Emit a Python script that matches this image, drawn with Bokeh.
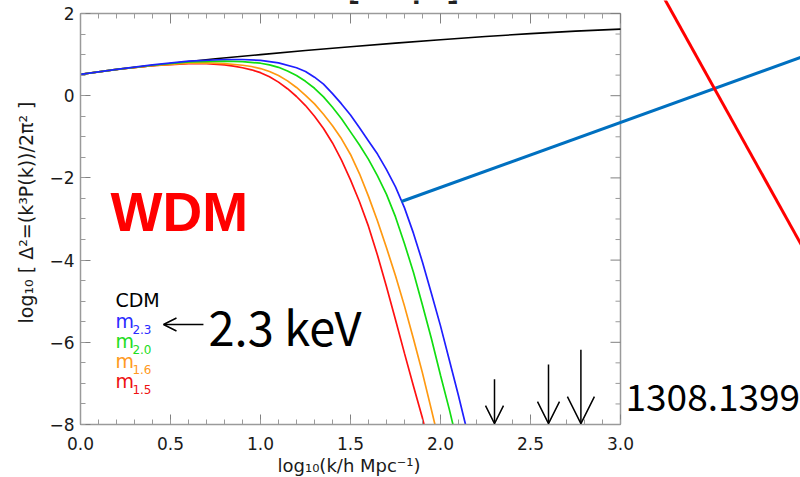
import numpy as np
from bokeh.plotting import figure
from bokeh.models import (Label, Arrow, OpenHead, LinearAxis, Range1d, SingleIntervalTicker)
from bokeh.embed import file_html
from bokeh.resources import INLINE

# ---------------- data ----------------
cdm_x = [0.0, 0.25, 0.5, 0.75, 1.0, 1.25, 1.5, 1.75, 2.0, 2.25, 2.5, 2.75, 3.0]
cdm_y = [0.52, 0.66, 0.78, 0.90, 1.00, 1.10, 1.19, 1.28, 1.36, 1.44, 1.51, 1.57, 1.62]

m23_x = [0.0, 0.2, 0.4, 0.6, 0.8, 0.9, 1.0, 1.1, 1.2, 1.25, 1.3, 1.35, 1.4, 1.45, 1.5,
         1.55, 1.6, 1.65, 1.7, 1.75, 1.8, 1.85, 1.9, 1.95, 2.0, 2.05, 2.1, 2.15]
m23_y = [0.52, 0.64, 0.75, 0.84, 0.88, 0.88, 0.86, 0.80, 0.68, 0.59, 0.45, 0.28, 0.05, -0.20, -0.47,
         -0.78, -1.10, -1.42, -1.80, -2.22, -2.73, -3.35, -4.05, -4.82, -5.60, -6.45, -7.30, -8.20]

m20_x = [0.0, 0.2, 0.4, 0.6, 0.8, 0.9, 1.0, 1.05, 1.1, 1.15, 1.2, 1.25, 1.3, 1.35, 1.4, 1.45,
         1.5, 1.55, 1.6, 1.65, 1.7, 1.75, 1.8, 1.85, 1.9, 1.95, 2.0, 2.05, 2.08]
m20_y = [0.52, 0.64, 0.74, 0.82, 0.84, 0.83, 0.79, 0.75, 0.69, 0.60, 0.49, 0.35, 0.18, -0.03, -0.28, -0.56,
         -0.88, -1.20, -1.55, -1.95, -2.40, -2.95, -3.60, -4.30, -5.10, -5.92, -6.80, -7.65, -8.20]

m16_x = [0.0, 0.2, 0.4, 0.6, 0.7, 0.8, 0.9, 0.95, 1.0, 1.05, 1.1, 1.15, 1.2, 1.25, 1.3, 1.35,
         1.4, 1.45, 1.5, 1.55, 1.6, 1.65, 1.7, 1.75, 1.8, 1.85, 1.9, 1.95, 1.98]
m16_y = [0.52, 0.64, 0.73, 0.79, 0.80, 0.78, 0.74, 0.71, 0.66, 0.59, 0.49, 0.36, 0.20, 0.01, -0.20, -0.45,
         -0.73, -1.05, -1.43, -1.90, -2.45, -3.05, -3.70, -4.38, -5.12, -5.92, -6.75, -7.65, -8.20]

m15_x = [0.0, 0.2, 0.4, 0.6, 0.7, 0.8, 0.85, 0.9, 0.95, 1.0, 1.05, 1.1, 1.15, 1.2, 1.25, 1.3,
         1.35, 1.4, 1.45, 1.5, 1.55, 1.6, 1.65, 1.7, 1.75, 1.8, 1.85, 1.9, 1.92]
m15_y = [0.52, 0.64, 0.73, 0.78, 0.78, 0.75, 0.72, 0.68, 0.63, 0.56, 0.46, 0.33, 0.17, -0.02, -0.24, -0.50,
         -0.80, -1.15, -1.57, -2.05, -2.58, -3.18, -3.88, -4.65, -5.45, -6.27, -7.07, -7.85, -8.20]

legend_names = ["m", "m", "m", "m"]
legend_subs = ["2.3", "2.0", "1.6", "1.5"]

arrow_k = [2.3, 2.6, 2.78]          # log10 k of the marked scales
arrow_top = [-6.9, -6.54, -6.18]

y_major = [-8, -6, -4, -2, 0, 2]
y_labels = ["\u22128", "\u22126", "\u22124", "\u22122", "0", "2"]
x_major = [0.0, 0.5, 1.0, 1.5, 2.0, 2.5, 3.0]
x_labels = ["0.0", "0.5", "1.0", "1.5", "2.0", "2.5", "3.0"]

colors = ["#1f1fff", "#11dd11", "#ff9911", "#ff1111"]
txt_colors = ["#2b2bff", "#22dd22", "#ff9922", "#ee1111"]

# ---------------- figure ----------------
# the frame runs to the right and top canvas edges so the callouts outside the
# axes box can be drawn; the axes box itself spans x 0..3, y -8..2
XMIN, XMAX, YMIN, YMAX = 0.0, 3.0, -8.0, 2.0
FONT = "DejaVu Sans"
AX = "#9a9a9a"
TK = "#808080"

p = figure(width=800, height=477, output_backend="svg", toolbar_location=None,
           x_range=Range1d(XMIN, 4.0), y_range=Range1d(YMIN, 2.316),
           min_border_left=80, min_border_right=0, min_border_top=0, min_border_bottom=53,
           x_axis_location=None, y_axis_location=None, title_location="below")
p.outline_line_color = None
p.xgrid.visible = False
p.ygrid.visible = False
p.background_fill_color = "white"
p.border_fill_color = "white"

# x-axis caption, centred under the axes box (not under the wider frame)
p.title.text = "log\u2081\u2080(k/h Mpc\u207b\u00b9)"
p.title.align = "left"
p.title.offset = 197
p.title.standoff = 0
p.title.text_font = FONT
p.title.text_font_size = "18px"
p.title.text_font_style = "normal"
p.title.text_color = "#1a1a1a"


def style(ax):
    ax.axis_line_color = AX
    ax.axis_line_width = 1.5
    ax.major_tick_line_color = TK
    ax.minor_tick_line_color = AX
    ax.major_tick_in = 10
    ax.major_tick_out = 0
    ax.minor_tick_in = 5
    ax.minor_tick_out = 0
    ax.major_label_text_font = FONT
    ax.major_label_text_color = "#1a1a1a"
    ax.axis_label_text_font = FONT
    ax.axis_label_text_font_style = "normal"
    ax.axis_label_text_color = "#1a1a1a"


xb = LinearAxis(ticker=SingleIntervalTicker(interval=0.5, num_minor_ticks=5), bounds=(XMIN, XMAX))
style(xb)
xb.major_label_text_font_size = "17px"
xb.major_label_standoff = 12
xb.major_label_overrides = {v: s for v, s in zip(x_major, x_labels)}
p.add_layout(xb, "below")

yl = LinearAxis(ticker=SingleIntervalTicker(interval=2, num_minor_ticks=4),
                axis_label="log\u2081\u2080 [ \u0394\u00b2=(k\u00b3P(k))/2\u03c0\u00b2 ]",
                bounds=(YMIN, YMAX))
style(yl)
yl.major_label_text_font_size = "17px"
yl.axis_label_text_font_size = "19px"
yl.major_label_standoff = 6
yl.axis_label_standoff = 9
yl.major_label_overrides = {float(v): s for v, s in zip(y_major, y_labels)}
p.add_layout(yl, "left")

# top and right sides of the axes box with inward ticks
p.segment(x0=[XMIN, XMAX], y0=[YMAX, YMIN], x1=[XMAX, XMAX], y1=[YMAX, YMAX],
          line_color=AX, line_width=1.5)
top_major = np.arange(XMIN, XMAX + 1e-9, 0.5)
top_minor = np.array([v for v in np.arange(XMIN, XMAX + 1e-9, 0.1)
                      if abs(v / 0.5 - round(v / 0.5)) > 1e-6])
right_major = np.arange(YMIN, YMAX + 1e-9, 2.0)
right_minor = np.array([v for v in np.arange(YMIN, YMAX + 1e-9, 0.5)
                        if abs(v / 2.0 - round(v / 2.0)) > 1e-6])
p.ray(x=top_major, y=YMAX, length=10, length_units="screen", angle=-np.pi / 2,
      line_color=TK, line_width=1)
p.ray(x=top_minor, y=YMAX, length=5, length_units="screen", angle=-np.pi / 2,
      line_color=AX, line_width=1)
p.ray(x=XMAX, y=right_major, length=10, length_units="screen", angle=np.pi,
      line_color=TK, line_width=1)
p.ray(x=XMAX, y=right_minor, length=5, length_units="screen", angle=np.pi,
      line_color=AX, line_width=1)

# ---------------- curves ----------------
p.line(cdm_x, cdm_y, line_color="black", line_width=1.6)
for xs, ys, c in [(m23_x, m23_y, colors[0]), (m20_x, m20_y, colors[1]),
                  (m16_x, m16_y, colors[2]), (m15_x, m15_y, colors[3])][::-1]:
    p.line(xs, ys, line_color=c, line_width=1.7)

# ---------------- legend text ----------------
p.add_layout(Label(x=0.194, y=-4.96, text="CDM", text_font=FONT, text_font_size="19px",
                   text_color="black", text_baseline="middle"))
for i, (nm, sb, c) in enumerate(zip(legend_names, legend_subs, txt_colors)):
    yy = -5.47 - 0.494 * i
    p.add_layout(Label(x=0.194, y=yy, text=nm, text_font=FONT, text_font_size="19px",
                       text_color=c, text_baseline="middle"))
    p.add_layout(Label(x=0.194, y=yy, x_offset=17, y_offset=-8.5, text=sb, text_font=FONT,
                       text_font_size="12px", text_color=c, text_baseline="middle"))

# ---------------- annotations ----------------
p.add_layout(Label(x=0.167, y=-2.82, text="WDM", text_font="Liberation Sans",
                   text_font_size="55px", text_font_style="bold", text_color="#ff0000",
                   text_baseline="middle"))
p.add_layout(Label(x=0.711, y=-5.59, text="2.3 keV", text_font="Noto Sans CJK JP",
                   text_font_size="47px", text_color="black", text_baseline="middle"))
p.add_layout(Label(x=3.028, y=-7.355, text="1308.1399", text_font="Noto Sans CJK JP",
                   text_font_size="37px", text_color="black", text_baseline="middle"))
p.add_layout(Label(x=1.344, y=2.645, text="k [h/Mpc]", text_font="Liberation Sans",
                   text_font_size="31px", text_font_style="bold", text_color="#222222",
                   text_baseline="middle"))

p.add_layout(Arrow(x_start=0.683, y_start=-5.567, x_end=0.461, y_end=-5.567,
                   line_width=1.5, line_color="black",
                   end=OpenHead(size=13, line_width=1.5, line_color="black")))

for k, top, s in zip(arrow_k, arrow_top, [18, 22, 27]):
    p.add_layout(Arrow(x_start=k, y_start=top, x_end=k, y_end=-7.98,
                       line_width=1.5, line_color="black",
                       end=OpenHead(size=s, line_width=1.5, line_color="black")))

# callout lines running outside the axes box
p.add_layout(Arrow(x_start=1.783, y_start=-2.574, x_end=4.056, y_end=1.017,
                   line_width=3, line_color="#0070c0", end=None))
p.add_layout(Arrow(x_start=3.188, y_start=2.803, x_end=4.056, y_end=-4.034,
                   line_width=3, line_color="#ff0000", end=None))

open("out.html", "w").write(file_html(p, INLINE))
